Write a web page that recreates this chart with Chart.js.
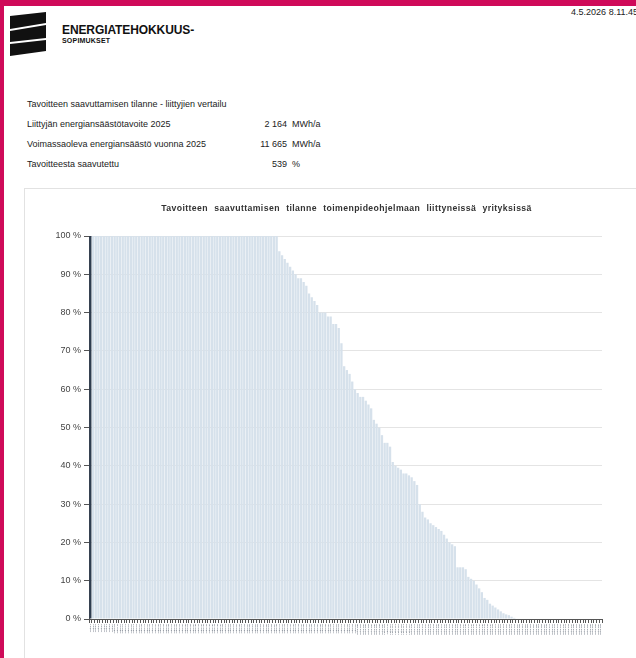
<!DOCTYPE html>
<html>
<head>
<meta charset="utf-8">
<script src="https://cdn.jsdelivr.net/npm/chart.js@4.4.1/dist/chart.umd.min.js"></script>
<style>
  html, body { margin: 0; padding: 0; background: #fff; }
  body { width: 636px; height: 658px; position: relative; overflow: hidden;
         font-family: "Liberation Sans", Arial, sans-serif; color: #333; }
  .topbar { position: absolute; left: 0; top: 0; width: 636px; height: 6px; background: #cf0a59; }
  .leftbar { position: absolute; left: 0; top: 0; width: 4px; height: 658px; background: #cf0a59; }
  .logo { position: absolute; left: 10px; top: 12px; }
  .brand { position: absolute; left: 62px; top: 24px; font-weight: bold; color: #111; line-height: 1; }
  .brand .big { font-size: 12px; letter-spacing: -0.1px; }
  .brand .small { font-size: 7px; margin-top: 1px; letter-spacing: 0.2px; }
  .date { position: absolute; right: -2px; top: 7px; font-size: 9px; color: #222; }
  .info { position: absolute; left: 27px; font-size: 9px; color: #222; }
  .val { position: absolute; font-size: 9px; color: #222; text-align: right; width: 60px; }
  .unit { position: absolute; font-size: 9px; color: #222; }
  .panel { position: absolute; left: 24px; top: 188px; width: 620px; height: 480px;
           border: 1px solid #e2e2e2; }
  #wrap { position: absolute; left: 24px; top: 189px; width: 612px; height: 466px; }
</style>
</head>
<body>
<div class="topbar"></div>
<div class="leftbar"></div>
<svg class="logo" width="40" height="44" viewBox="0 0 40 44">
  <polygon points="0,4 36,0 36,11 0,17" fill="#111"/>
  <polygon points="0,19 36,13 36,26 0,30" fill="#111"/>
  <polygon points="0,32 36,28 36,39 0,44" fill="#111"/>
</svg>
<div class="brand"><div class="big">ENERGIATEHOKKUUS-</div><div class="small">SOPIMUKSET</div></div>
<div class="date">4.5.2026 8.11.45</div>

<div class="info" style="top:99px">Tavoitteen saavuttamisen tilanne - liittyjien vertailu</div>
<div class="info" style="top:119px">Liittyjän energiansäästötavoite 2025</div>
<div class="info" style="top:139px">Voimassaoleva energiansäästö vuonna 2025</div>
<div class="info" style="top:159px">Tavoitteesta saavutettu</div>
<div class="val" style="left:227px;top:119px">2 164</div>
<div class="val" style="left:227px;top:139px">11 665</div>
<div class="val" style="left:227px;top:159px">539</div>
<div class="unit" style="left:292px;top:119px">MWh/a</div>
<div class="unit" style="left:292px;top:139px">MWh/a</div>
<div class="unit" style="left:292px;top:159px">%</div>

<div class="panel"></div>
<div id="wrap"><canvas id="myChart" width="612" height="466"></canvas></div>

<script>
// Liittyjän oma palkki (ensimmäinen) + vertailuyritykset, arvot %-osuutena tavoitteesta (katto 100 %)
const fullBars = [
  100, 100, 100, 100, 100, 100, 100, 100, 100, 100,
  100, 100, 100, 100, 100, 100, 100, 100, 100, 100,
  100, 100, 100, 100, 100, 100, 100, 100, 100, 100,
  100, 100, 100, 100, 100, 100, 100, 100, 100, 100,
  100, 100, 100, 100, 100, 100, 100, 100, 100, 100,
  100, 100, 100, 100, 100, 100, 100, 100, 100, 100,
  100, 100, 100, 100, 100, 100, 100, 100, 100, 100
];
const fallingBars = [
  96, 95, 94, 93, 92, 91, 90, 89, 89, 88,
  87, 85, 84, 83, 82, 80, 80, 80, 79, 79,
  77, 77, 76, 72, 66, 65, 64, 62, 60, 59,
  58, 58, 57, 56, 55, 52, 51, 50, 48, 46,
  46, 45, 41, 40, 39.5, 39, 38, 38, 37.5, 37,
  36, 35, 30, 28, 26.5, 26, 25, 24.5, 24, 23.5,
  23, 22, 21, 20, 19.5, 19, 13.5, 13.5, 13.5, 13,
  11, 10.5, 10, 9, 8, 7, 5.5, 5, 4, 3.5,
  3, 2.5, 2, 1.5, 1.2, 1, 0.6, 0.3
];
const zeroBars = [
  0, 0, 0, 0, 0, 0, 0, 0, 0, 0,
  0, 0, 0, 0, 0, 0, 0, 0, 0, 0,
  0, 0, 0, 0, 0, 0, 0, 0, 0, 0,
  0, 0
];
const values = fullBars.concat(fallingBars, zeroBars);
const companies = values.map((v, i) => 'Yritys ' + (i + 1));
const yTicks = [0, 10, 20, 30, 40, 50, 60, 70, 80, 90, 100];
const chartTitle = 'Tavoitteen saavuttamisen tilanne toimenpideohjelmaan liittyneissä yrityksissä';

const barColors = values.map((v, i) => i === 0 ? '#2f3d4f' : '#d6e1eb');

// otsikko piirretään itse, jotta sanaväli saadaan leveämmäksi kuin Chart.js:n title-pluginilla
const titlePlugin = {
  id: 'wideTitle',
  afterDraw(chart) {
    const c = chart.ctx;
    const area = chart.chartArea;
    c.save();
    c.font = 'bold 8.7px "Liberation Sans", Arial, sans-serif';
    c.fillStyle = '#333';
    c.textAlign = 'center';
    c.textBaseline = 'middle';
    if ('letterSpacing' in c) c.letterSpacing = '0.4px';
    if ('wordSpacing' in c) c.wordSpacing = '3.5px';
    c.fillText(chartTitle, (area.left + area.right) / 2 + 1, 20);
    c.restore();
  }
};

const ctx = document.getElementById('myChart').getContext('2d');
new Chart(ctx, {
  type: 'bar',
  data: {
    labels: companies,
    datasets: [{
      data: values,
      backgroundColor: barColors,
      borderWidth: 0,
      barPercentage: 0.85,
      categoryPercentage: 1.0
    }]
  },
  plugins: [titlePlugin],
  options: {
    responsive: false,
    animation: false,
    events: [],
    layout: { padding: { left: 0, right: 34, top: 47, bottom: 0 } },
    plugins: {
      legend: { display: false },
      tooltip: { enabled: false },
      title: { display: false }
    },
    scales: {
      x: {
        grid: { display: true, drawOnChartArea: false, tickLength: 4, color: '#555', tickColor: '#555' },
        border: { display: true, color: '#555', width: 1 },
        ticks: {
          autoSkip: false,
          maxRotation: 90,
          minRotation: 90,
          color: '#3a4556',
          padding: 1,
          font: { family: 'Liberation Sans', size: 2.5 }
        },
        afterFit: s => { s.height = 36; }
      },
      y: {
        min: 0,
        max: 100,
        afterBuildTicks: s => { s.ticks = yTicks.map(v => ({ value: v })); },
        grid: { color: '#e4e4e4', tickLength: 5, tickColor: '#555' },
        border: { display: true, color: '#555', width: 1 },
        ticks: {
          color: '#444',
          padding: 3,
          font: { family: 'Liberation Sans', size: 9 },
          callback: v => v + ' %'
        },
        afterFit: s => { s.width = 65; }
      }
    }
  }
});
</script>
</body>
</html>
